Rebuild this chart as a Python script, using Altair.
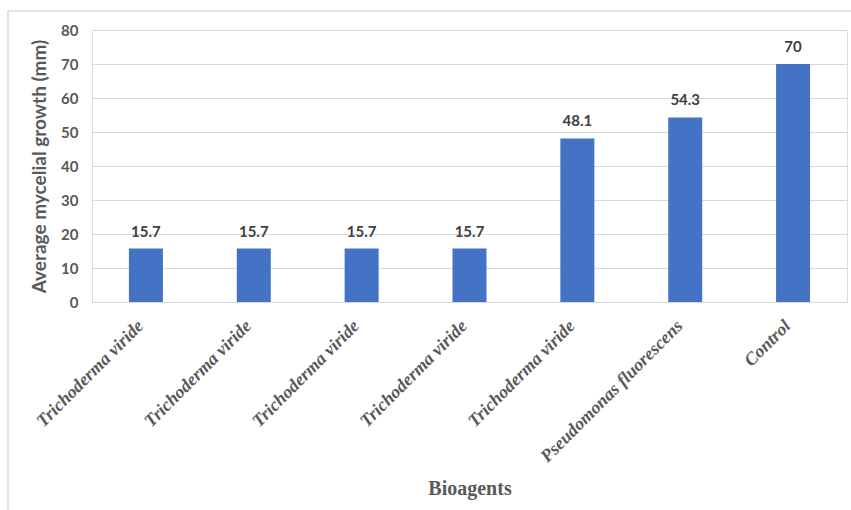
import altair as alt
import pandas as pd

idx = [1, 2, 3, 4, 5, 6, 7]
names = ["Trichoderma viride", "Trichoderma viride", "Trichoderma viride",
         "Trichoderma viride", "Trichoderma viride", "Pseudomonas fluorescens", "Control"]
values = [15.7, 15.7, 15.7, 15.7, 48.1, 54.3, 70]
labels = ["15.7", "15.7", "15.7", "15.7", "48.1", "54.3", "70"]
yticks = [0, 10, 20, 30, 40, 50, 60, 70, 80]

df = pd.DataFrame({"idx": idx, "name": names, "value": values, "label": labels})

label_expr = "[" + ",".join(f"'{n}'" for n in names) + "][datum.value - 1]"

W, H = 755, 272
SANS = "Lato"
SERIF = "Liberation Serif"

x_enc = alt.X("idx:O", sort=idx,
              scale=alt.Scale(paddingInner=0.0, paddingOuter=0.0),
              axis=alt.Axis(title="Bioagents", labelExpr=label_expr, labelAngle=-45,
                            labelFont=SERIF, labelFontStyle="italic", labelFontWeight="bold",
                            labelFontSize=18, labelColor="#595959", labelPadding=21,
                            labelOffset=-5, labelOverlap=False, labelLimit=0,
                            labelAlign="right", labelBaseline="middle",
                            ticks=False, domainColor="#d9d9d9", domainWidth=1,
                            titleFont=SERIF, titleFontWeight="bold", titleFontSize=20,
                            titleColor="#595959", titleY=186, titleBaseline="middle"))

y_enc = alt.Y("value:Q", scale=alt.Scale(domain=[0, 80]),
              axis=alt.Axis(title="Average mycelial growth (mm)", values=yticks,
                            ticks=False, domain=False, gridColor="#d9d9d9",
                            labelOverlap=False,
                            labelFont=SANS, labelFontWeight="bold", labelFontSize=15,
                            labelColor="#595959", labelPadding=14,
                            titleFont=SANS, titleFontWeight="bold", titleFontSize=19,
                            titleColor="#595959", titlePadding=11))

base = alt.Chart(df).encode(x=x_enc, y=y_enc)

bars = base.mark_bar(color="#4472C4", size=34)

text = base.mark_text(font=SANS, fontWeight="bold", fontSize=15, color="#404040",
                      baseline="bottom", dy=-9).encode(text="label:N")

frame_df = pd.DataFrame({"k": [0]})
frame = alt.Chart(frame_df).mark_rect(fill=None, stroke="#d9d9d9", strokeWidth=1.5).encode(
    x=alt.value(-84), x2=alt.value(780), y=alt.value(-19), y2=alt.value(500)
)

chart = alt.layer(frame, bars, text).properties(
    width=W, height=H,
    autosize=alt.AutoSizeParams(type="none"),
    padding={"left": 92, "top": 30, "right": 4, "bottom": 208},
).configure_view(strokeWidth=0).configure(background="white")

chart.save("out.html", embed_options={"renderer": "svg", "actions": False})
